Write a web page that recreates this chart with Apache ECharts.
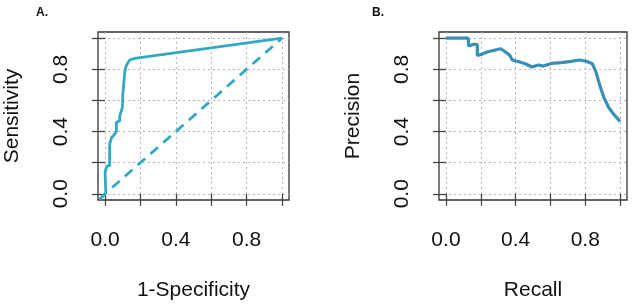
<!DOCTYPE html>
<html>
<head>
<meta charset="utf-8">
<script src="https://cdn.jsdelivr.net/npm/echarts@6/dist/echarts.min.js"></script>
<style>
  html, body { margin: 0; padding: 0; background: #fff; }
  #main { width: 633px; height: 306px; }
</style>
</head>
<body>
<div id="main"></div>
<script>
// ROC curve (1-Specificity, Sensitivity)
var rocX = [-0.03, 0.004, 0.0, 0.0, 0.011, 0.011, 0.026, 0.026, 0.036, 0.055, 0.064, 0.064, 0.083, 0.083, 0.098, 0.1, 0.111, 0.12, 0.139, 0.167, 1.0];
var rocY = [-0.035, 0.005, 0.01, 0.14, 0.14, 0.18, 0.18, 0.32, 0.36, 0.384, 0.4, 0.46, 0.47, 0.5, 0.555, 0.633, 0.78, 0.825, 0.86, 0.87, 1.0];
// chance diagonal
var diagX = [0.04, 1.0];
var diagY = [0.04, 1.0];
// precision-recall curve
var prX = [0.0, 0.128, 0.13, 0.156, 0.18, 0.18, 0.203, 0.24, 0.278, 0.315, 0.344, 0.366, 0.381, 0.419, 0.456, 0.494, 0.531, 0.559, 0.606, 0.663, 0.719, 0.766, 0.803, 0.841, 0.86, 0.885, 0.907, 0.935, 0.963, 1.0];
var prY = [1.0, 1.0, 0.95, 0.96, 0.96, 0.889, 0.896, 0.913, 0.923, 0.932, 0.91, 0.891, 0.86, 0.849, 0.836, 0.815, 0.828, 0.821, 0.838, 0.843, 0.851, 0.86, 0.853, 0.836, 0.789, 0.693, 0.619, 0.555, 0.512, 0.465];
var tickVals = [0, 0.2, 0.4, 0.6, 0.8, 1.0];
var labelVals = [0, 0.4, 0.8];

function pairs(xs, ys) {
  return xs.map(function (x, i) { return [x, ys[i]]; });
}

var font = 'Liberation Sans, Arial, sans-serif';

function xAx(idx, name) {
  return {
    gridIndex: idx, type: 'value', min: -0.04, max: 1.04,
    name: name, nameLocation: 'middle', nameGap: 80,
    nameTextStyle: { fontFamily: font, fontSize: 21, color: '#111' },
    axisLine: { show: false },
    axisTick: { show: true, customValues: tickVals, inside: false, length: 12, lineStyle: { color: '#444', width: 1.3 } },
    axisLabel: { customValues: labelVals, margin: 30, fontFamily: font, fontSize: 21, color: '#111',
      formatter: function (v) { return v.toFixed(1); } },
    splitLine: { show: true, lineStyle: { color: '#b5b5b5', type: [2, 3], width: 1 } }
  };
}
function yAx(idx, name) {
  return {
    gridIndex: idx, type: 'value', min: -0.04, max: 1.04,
    name: name, nameLocation: 'middle', nameGap: 75,
    nameTextStyle: { fontFamily: font, fontSize: 21, color: '#111' },
    axisLine: { show: false },
    axisTick: { show: true, customValues: tickVals, length: 13, lineStyle: { color: '#444', width: 1.3 } },
    axisLabel: { customValues: labelVals, rotate: 90, margin: 26, fontFamily: font, fontSize: 21, color: '#111',
      formatter: function (v) { return v.toFixed(1); } },
    splitLine: { show: true, lineStyle: { color: '#b5b5b5', type: [2, 3], width: 1 } }
  };
}

var myChart = echarts.init(document.getElementById('main'));
var option = {
  backgroundColor: '#fff',
  animation: false,
  title: [
    { text: 'A.', left: 31, top: 2, textStyle: { fontFamily: font, fontSize: 12, fontWeight: 'bold', color: '#111' } },
    { text: 'B.', left: 367, top: 2, textStyle: { fontFamily: font, fontSize: 12, fontWeight: 'bold', color: '#111' } }
  ],
  grid: [
    { left: 98, top: 32, width: 191, height: 169, show: true, borderColor: '#333', borderWidth: 1.3, backgroundColor: 'transparent' },
    { left: 439, top: 32, width: 188, height: 169, show: true, borderColor: '#333', borderWidth: 1.3, backgroundColor: 'transparent' }
  ],
  xAxis: [xAx(0, '1-Specificity'), xAx(1, 'Recall')],
  yAxis: [yAx(0, 'Sensitivity'), yAx(1, 'Precision')],
  series: [
    {
      type: 'line', xAxisIndex: 0, yAxisIndex: 0, data: pairs(diagX, diagY),
      showSymbol: false, lineStyle: { color: '#31a9c6', width: 2.8, type: [10, 7] }
    },
    {
      type: 'line', xAxisIndex: 0, yAxisIndex: 0, data: pairs(rocX, rocY),
      showSymbol: false, lineStyle: { color: '#31a9c6', width: 2.8 }
    },
    {
      type: 'line', xAxisIndex: 1, yAxisIndex: 1, data: pairs(prX, prY),
      showSymbol: false, lineStyle: { color: '#3a8fb7', width: 3.2 }
    }
  ]
};
myChart.setOption(option);
</script>
</body>
</html>
